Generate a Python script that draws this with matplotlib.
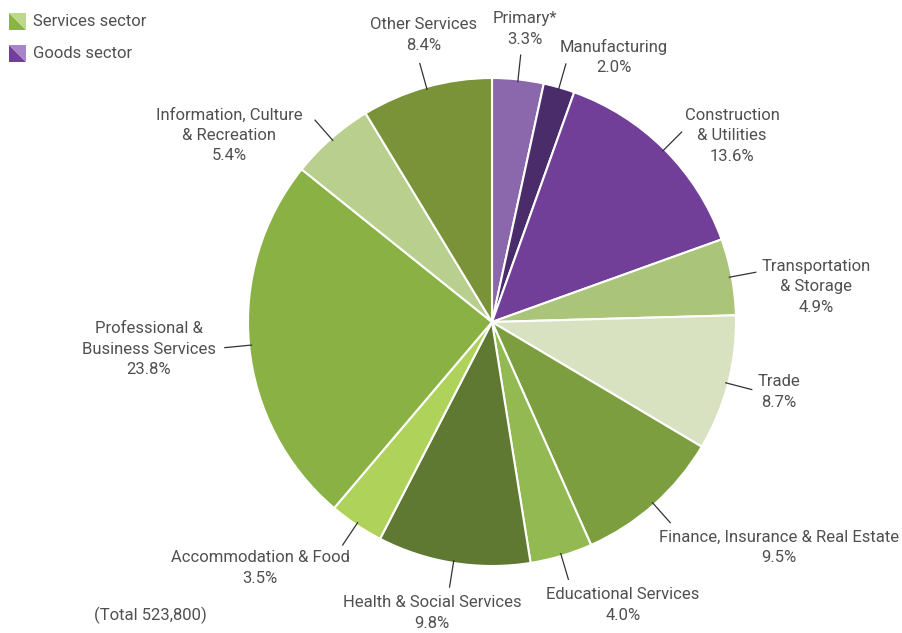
import numpy as np
import matplotlib
matplotlib.use("Agg")
import matplotlib.pyplot as plt
from matplotlib.patches import Polygon

labels = ["Primary*", "Manufacturing", "Construction\n& Utilities", "Transportation\n& Storage",
          "Trade", "Finance, Insurance & Real Estate", "Educational Services",
          "Health & Social Services", "Accommodation & Food", "Professional &\nBusiness Services",
          "Information, Culture\n& Recreation", "Other Services"]
values = [3.3, 2.0, 13.6, 4.9, 8.7, 9.5, 4.0, 9.8, 3.5, 23.8, 5.4, 8.4]
colors = ["#8b67ab", "#4a2c6a", "#713f98", "#aac57a", "#d9e2c0", "#7c9e3e",
          "#93b952", "#5f7832", "#afd35a", "#89b143", "#b8cf8d", "#7a9238"]
# label centers in pixel coordinates of the figure (layout)
label_px = [(525, 29), (614, 57), (732, 136), (816, 287), (779, 392), (779, 547),
            (623, 605), (432, 613), (260, 568), (149, 349), (229, 135), (424, 35)]
legend_items = ["Services sector", "Goods sector"]
legend_colors = [("#8ab543", "#bcd88a"), ("#713f98", "#a884c8")]
total_text = "(Total 523,800)"

plt.rcParams['font.family'] = ['Roboto', 'DejaVu Sans']
W, H = 902, 633
fig = plt.figure(figsize=(W / 100, H / 100), dpi=100)
cx, cy, R = 492, 322, 244
ax = fig.add_axes([(cx - R) / W, (H - cy - R) / H, 2 * R / W, 2 * R / H])
ax.set_aspect('equal')
wedges, _ = ax.pie(values, colors=colors, startangle=90, counterclock=False, radius=1,
                   wedgeprops=dict(edgecolor='white', linewidth=1.5))
ax.set_xlim(-1, 1)
ax.set_ylim(-1, 1)
ax.axis('off')

tc = "#505050"
fs = 12
for w, lab, val, (px, py) in zip(wedges, labels, values, label_px):
    ang = np.deg2rad((w.theta1 + w.theta2) / 2)
    x0, y0 = np.cos(ang), np.sin(ang)
    ax.plot([x0 * 0.99, x0 * 1.1], [y0 * 0.99, y0 * 1.1], color="#333333", lw=0.9,
            clip_on=False)
    fig.text(px / W, 1 - py / H, f"{lab}\n{val:.1f}%", ha='center', va='center',
             fontsize=fs, color=tc, linespacing=1.42)

fig.text(150 / W, 1 - 615 / H, total_text, ha='center', va='center', fontsize=fs, color=tc)

# legend with diagonal split squares
lax = fig.add_axes([0, 0, 1, 1])
lax.set_xlim(0, W)
lax.set_ylim(H, 0)
lax.axis('off')
for i, (txt, (dark, light)) in enumerate(zip(legend_items, legend_colors)):
    y = 13 + i * 32
    x = 9
    s = 17
    lax.add_patch(Polygon([(x, y), (x, y + s), (x + s, y + s)], closed=True, color=dark, lw=0))
    lax.add_patch(Polygon([(x, y), (x + s, y), (x + s, y + s)], closed=True, color=light, lw=0))
    lax.text(33, y + s / 2, txt, ha='left', va='center', fontsize=fs, color=tc)

fig.savefig("out.png", dpi=100, facecolor='white')
